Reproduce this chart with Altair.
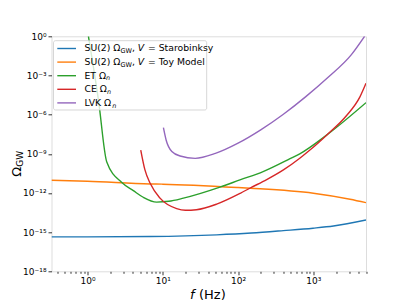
import altair as alt
import pandas as pd

# ---------------- data ----------------
series_names = ["Starobinsky", "Toy", "ET", "CE", "LVK"]
series_colors = ["#1f77b4", "#ff7f0e", "#2ca02c", "#d62728", "#9467bd"]

star_f = [0.333, 1.0, 6.8, 52, 150, 400, 990, 1850, 5000]
star_omega = [4.3e-16, 4.3e-16, 4.6e-16, 6.2e-16, 8.5e-16, 1.3e-15, 2.0e-15, 2.95e-15, 8.5e-15]

toy_f = [0.333, 1.0, 6.8, 10, 100, 145, 1000, 3070, 5000]
toy_omega = [9.3e-12, 7.9e-12, 4.9e-12, 4.7e-12, 2.6e-12, 2.3e-12, 9.5e-13, 3.3e-13, 1.8e-13]

et_f = [1.03, 1.40, 1.80, 2.86, 4.07, 5.5, 8.3, 12, 18.8, 57.5, 106, 215, 490, 660, 1510, 5000]
et_omega = [1.0, 1.3e-5, 2.5e-10, 6.2e-12, 1.5e-12, 4.7e-13, 2.0e-13, 2.3e-13, 4.0e-13,
            2.8e-12, 1.0e-11, 4.3e-11, 4.2e-10, 1.0e-9, 2.8e-8, 8.3e-6]

ce_f = [5.1, 5.8, 6.8, 9.2, 15.3, 20, 28, 52, 107, 145, 240, 400, 660, 900, 1510, 2780, 4170, 5000]
ce_omega = [1.95e-9, 5.8e-11, 5.5e-12, 4.0e-13, 6.3e-14, 4.7e-14, 5.2e-14, 1.4e-13, 9.5e-13,
            2.4e-12, 1.05e-11, 5.8e-11, 4.6e-10, 1.95e-9, 2.8e-8, 8.9e-7, 2.4e-5, 2.5e-4]

lvk_f = [10.2, 11.1, 13.2, 17, 27, 50, 100, 200, 400, 794, 1585, 3160, 4790]
lvk_omega = [1.0e-7, 1.1e-8, 1.5e-9, 6.8e-10, 4.5e-10, 1.07e-9, 6.5e-9, 6.8e-8, 1.07e-6,
             2.4e-5, 7.6e-4, 3.6e-2, 1.0]

x_major = [1, 10, 100, 1000]
x_minor = [0.4, 0.5, 0.6, 0.7, 0.8, 0.9, 2, 3, 4, 5, 6, 7, 8, 9, 20, 30, 40, 50, 60, 70, 80, 90,
           200, 300, 400, 500, 600, 700, 800, 900, 2000, 3000, 4000, 5000]
y_ticks = [1, 1e-3, 1e-6, 1e-9, 1e-12, 1e-15, 1e-18]

legend_main = ["SU(2) Ω", "SU(2) Ω", "ET Ω", "CE Ω", "LVK Ω"]
legend_sub = ["GW", "GW", "n", "n", "n"]
legend_tail = ["= Starobinksy", "= Toy Model", "", "", ""]

# ---------------- tables ----------------
rows = []
for name, fs, om in [("Starobinsky", star_f, star_omega), ("Toy", toy_f, toy_omega),
                     ("ET", et_f, et_omega), ("CE", ce_f, ce_omega), ("LVK", lvk_f, lvk_omega)]:
    for i, (a, b) in enumerate(zip(fs, om)):
        rows.append({"series": name, "f": a, "omega": b, "i": i})
df = pd.DataFrame(rows)

FONT = "DejaVu Sans"
W = {'S': 635, 'U': 732, '(': 390, '2': 636, ')': 390, ' ': 318, 'Ω': 764, 'G': 775, 'W': 989,
     ',': 318, 'V': 684, '=': 838, 't': 392, 'a': 613, 'r': 411, 'o': 612, 'b': 635, 'i': 278,
     'n': 634, 'k': 579, 's': 521, 'y': 592, 'T': 611, 'M': 863, 'd': 635, 'e': 615, 'l': 278,
     'E': 632, 'C': 698, 'L': 557, 'K': 656}


def tw(s, size):
    return sum(W.get(c, 600) for c in s) * size / 1000.0


LFS = 9.3
SFS = 6.5
ROW0 = 12.2
ROWSTEP = 13.6
TX0 = 33.0

leg_lines = pd.DataFrame({"series": series_names, "color": series_colors,
                          "py": [ROW0 + ROWSTEP * k for k in range(5)]})

pieces_n, pieces_i = [], []
for k in range(5):
    y0 = ROW0 + ROWSTEP * k
    x = TX0
    pieces_n.append({"t": legend_main[k], "px": x, "py": y0, "s": LFS})
    x += tw(legend_main[k], LFS)
    if k < 2:
        pieces_n.append({"t": legend_sub[k], "px": x, "py": y0 + 2.7, "s": SFS})
        x += tw(legend_sub[k], SFS)
        pieces_n.append({"t": ",", "px": x, "py": y0, "s": LFS})
        x += tw(", ", LFS)
        pieces_i.append({"t": "V", "px": x, "py": y0, "s": LFS})
        x += tw("V ", LFS) + 0.8
        pieces_n.append({"t": legend_tail[k], "px": x, "py": y0, "s": LFS})
    else:
        pieces_i.append({"t": legend_sub[k], "px": x, "py": y0 + 2.7, "s": SFS})
txt_n = pd.DataFrame(pieces_n)
txt_i = pd.DataFrame(pieces_i)

# ---------------- axes helpers ----------------
SUP = {"0": "⁰", "1": "¹", "2": "²", "3": "³", "4": "⁴", "5": "⁵", "6": "⁶", "7": "⁷",
       "8": "⁸", "9": "⁹", "-": "⁻"}


def sup(e):
    return "10" + "".join(SUP[c] for c in str(e))


EXP = "round(log(datum.value)/LN10)"
IS_MAJOR = "abs(log(datum.value)/LN10 - round(log(datum.value)/LN10)) < 1e-6"


def label_expr(exps):
    s = "''"
    for e in reversed(exps):
        s = f"({EXP} == {e}) ? '{sup(e)}' : " + s
    return f"({IS_MAJOR}) ? (" + s + ") : ''"


x_axis = alt.Axis(values=x_major + x_minor, labelExpr=label_expr([0, 1, 2, 3]), title=None,
                  grid=False, domain=False, labelFont=FONT, labelFontSize=9, labelColor="#000",
                  tickColor="#000", tickWidth=0.8,
                  tickSize={"condition": {"test": IS_MAJOR, "value": 3.5}, "value": 2},
                  labelPadding=2, labelFlush=False, labelOverlap=False)
y_axis = alt.Axis(values=y_ticks, labelExpr=label_expr([0, -3, -6, -9, -12, -15, -18]),
                  title=None, grid=False, domain=False, labelFont=FONT, labelFontSize=9,
                  labelColor="#000", tickColor="#000", tickWidth=0.8, tickSize=3.5,
                  labelPadding=2, labelOverlap=False)

lines = alt.Chart(df).mark_line(strokeWidth=1.4, interpolate="monotone", clip=True).encode(
    x=alt.X("f:Q", scale=alt.Scale(type="log", domain=[0.333, 5000]), axis=x_axis),
    y=alt.Y("omega:Q", scale=alt.Scale(type="log", domain=[1e-18, 1]), axis=y_axis),
    color=alt.Color("series:N", scale=alt.Scale(domain=series_names, range=series_colors),
                    legend=None),
    order="i:Q",
)

box = alt.Chart(pd.DataFrame({"a": [0]})).mark_rect(
    fill="white", fillOpacity=0.8, stroke="#cccccc", strokeWidth=0.8, cornerRadius=2
).encode(x=alt.value(2), x2=alt.value(155.2), y=alt.value(4.4), y2=alt.value(73.7))

leg_rules = alt.Chart(leg_lines).mark_rule(strokeWidth=1.4).encode(
    x=alt.value(5.8), x2=alt.value(24.5),
    y=alt.Y("py:Q", scale=None),
    color=alt.Color("color:N", scale=None),
)

leg_txt_n = alt.Chart(txt_n).mark_text(align="left", baseline="middle", font=FONT,
                                       color="#000").encode(
    x=alt.X("px:Q", scale=None), y=alt.Y("py:Q", scale=None),
    size=alt.Size("s:Q", scale=None), text="t:N")
leg_txt_i = alt.Chart(txt_i).mark_text(align="left", baseline="middle", font=FONT,
                                       fontStyle="italic", color="#000").encode(
    x=alt.X("px:Q", scale=None), y=alt.Y("py:Q", scale=None),
    size=alt.Size("s:Q", scale=None), text="t:N")

# axis titles
xt_f = alt.Chart(pd.DataFrame({"t": ["f"]})).mark_text(
    align="left", baseline="alphabetic", font=FONT, fontSize=13, fontStyle="italic",
    color="#000").encode(x=alt.value(138.5), y=alt.value(262.5), text="t:N")
xt_hz = alt.Chart(pd.DataFrame({"t": ["(Hz)"]})).mark_text(
    align="left", baseline="alphabetic", font=FONT, fontSize=13, color="#000").encode(
    x=alt.value(147.5), y=alt.value(262.5), text="t:N")
yt_om = alt.Chart(pd.DataFrame({"t": ["Ω"]})).mark_text(
    align="center", baseline="middle", font=FONT, fontSize=13, angle=270, color="#000").encode(
    x=alt.value(-35.0), y=alt.value(135.5), text="t:N")
yt_gw = alt.Chart(pd.DataFrame({"t": ["GW"]})).mark_text(
    align="center", baseline="middle", font=FONT, fontSize=9, angle=270, color="#000").encode(
    x=alt.value(-31.5), y=alt.value(122.5), text="t:N")

chart = alt.layer(lines, box, leg_rules, leg_txt_n, leg_txt_i, xt_f, xt_hz, yt_om, yt_gw).properties(
    width=314.5, height=235,
    padding={"left": 43.5, "top": 28.3, "right": 32, "bottom": 32},
    autosize=alt.AutoSizeParams(type="none"),
).configure_view(stroke="#222", strokeWidth=1).configure(background="white")

chart.save("out.html", embed_options={"renderer": "svg", "actions": False})
